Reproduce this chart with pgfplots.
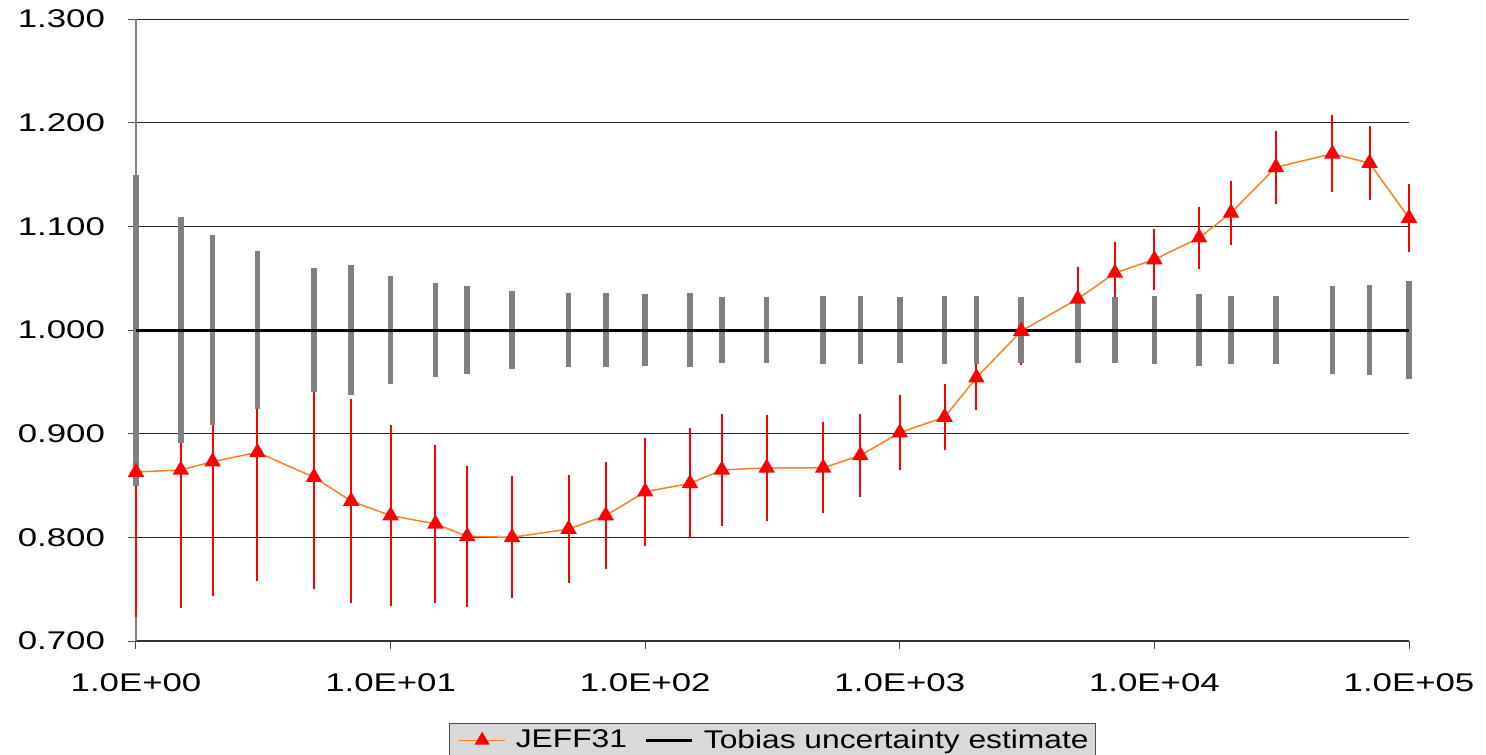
\documentclass[border=0pt]{standalone}
\usepackage{fontspec}
\setmainfont{Liberation Sans}[FakeStretch=1.36]
\newfontfamily\legfont{Liberation Sans}[FakeStretch=1.24]
\usepackage{pgfplots}
\usepackage{pgfplotstable}
\pgfplotsset{compat=1.18}
\definecolor{jeffline}{RGB}{255,128,32}
\definecolor{barcol}{RGB}{128,128,128}
\definecolor{legfill}{RGB}{217,217,217}

% JEFF31 ratio with uncertainty
\pgfplotstableread{
x      y      e
1      0.863  0.140
1.5    0.865  0.133
2      0.873  0.130
3      0.882  0.124
5      0.858  0.108
7      0.835  0.098
10     0.821  0.087
15     0.813  0.076
20     0.801  0.068
30     0.800  0.059
50     0.808  0.052
70     0.821  0.052
100    0.844  0.052
150    0.852  0.053
200    0.865  0.054
300    0.867  0.051
500    0.867  0.044
700    0.879  0.040
1000   0.901  0.036
1500   0.916  0.032
2000   0.954  0.031
3000   0.999  0.033
5000   1.030  0.031
7000   1.055  0.030
10000  1.068  0.029
15000  1.089  0.030
20000  1.113  0.031
30000  1.157  0.035
50000  1.170  0.037
70000  1.161  0.036
100000 1.108  0.033
}\jeff

% Tobias uncertainty band around 1
\pgfplotstableread{
x      y    e
1      1.0  0.150
1.5    1.0  0.109
2      1.0  0.092
3      1.0  0.076
5      1.0  0.060
7      1.0  0.063
10     1.0  0.052
15     1.0  0.045
20     1.0  0.042
30     1.0  0.038
50     1.0  0.036
70     1.0  0.036
100    1.0  0.035
150    1.0  0.036
200    1.0  0.032
300    1.0  0.032
500    1.0  0.033
700    1.0  0.033
1000   1.0  0.032
1500   1.0  0.033
2000   1.0  0.033
3000   1.0  0.032
5000   1.0  0.032
7000   1.0  0.032
10000  1.0  0.033
15000  1.0  0.035
20000  1.0  0.033
30000  1.0  0.033
50000  1.0  0.042
70000  1.0  0.043
100000 1.0  0.047
}\tobias

\begin{document}
\begin{tikzpicture}[font=\fontsize{12.8bp}{15bp}\selectfont]
\useasboundingbox (-68bp,-57bp) rectangle (675bp,320.5bp);
\begin{axis}[
    at={(0,0)}, anchor=south west,
    width=636.5bp, height=311bp, scale only axis,
    xmode=log, xmin=1, xmax=100000,
    ymin=0.7, ymax=1.3,
    clip=false,
    axis x line*=bottom, axis y line*=left,
    x axis line style={black!80, line width=0.6bp},
    y axis line style={barcol, line width=0.6bp},
    xtick={1,10,100,1000,10000,100000},
    xticklabels={1.0E+00,1.0E+01,1.0E+02,1.0E+03,1.0E+04,1.0E+05},
    xminorticks=false,
    ytick={0.7,0.8,0.9,1.0,1.1,1.2,1.3},
    yticklabels={0.700,0.800,0.900,1.000,1.100,1.200,1.300},
    xticklabel style={yshift=-9bp},
    yticklabel style={xshift=-8bp},
    tick align=outside,
    major tick length=4bp,
    tick style={black!70, line width=0.5bp},
    ymajorgrids,
    grid style={black!85, line width=0.5bp},
    legend image code/.code={%
        \path (-3bp,0bp) (26bp,0bp);
        \draw[mark repeat=2,mark phase=2,#1]
        plot coordinates {(0bp,0bp) (11.5bp,0bp) (23bp,0bp)};},
    legend style={at={(0.5,0)}, anchor=north, yshift=-41bp,
        fill=legfill, draw=black!70, line width=0.5bp,
        font=\legfont\fontsize{12.8bp}{15bp}\selectfont,
        inner xsep=1.5bp, inner ysep=1bp,
        legend columns=2,
        /tikz/every even column/.append style={column sep=4bp}},
]
\addlegendimage{jeffline, line width=0.7bp, mark=triangle*, mark size=3.6bp,
    mark options={red, fill=red, solid}}
\addlegendentry{JEFF31}
\addlegendimage{black, line width=1.5bp}
\addlegendentry{Tobias uncertainty estimate}

% red error bars of JEFF31 (underneath)
\addplot[draw=none, mark=none, forget plot,
    error bars/.cd, y dir=both, y explicit, error mark=none,
    error bar style={draw=red, line width=1bp}]
    table[x=x, y=y, y error=e] {\jeff};

% grey uncertainty bars
\addplot[draw=none, mark=none, forget plot,
    error bars/.cd, y dir=both, y explicit, error mark=none,
    error bar style={draw=barcol, line width=2.8bp}]
    table[x=x, y=y, y error=e] {\tobias};

\addplot[black, line width=1.5bp, forget plot] coordinates {(1,1) (100000,1)};

\addplot[jeffline, line width=0.75bp, mark=triangle*, mark size=4bp,
    mark options={red, fill=red, solid}, forget plot]
    table[x=x, y=y] {\jeff};
\end{axis}
\end{tikzpicture}
\end{document}
